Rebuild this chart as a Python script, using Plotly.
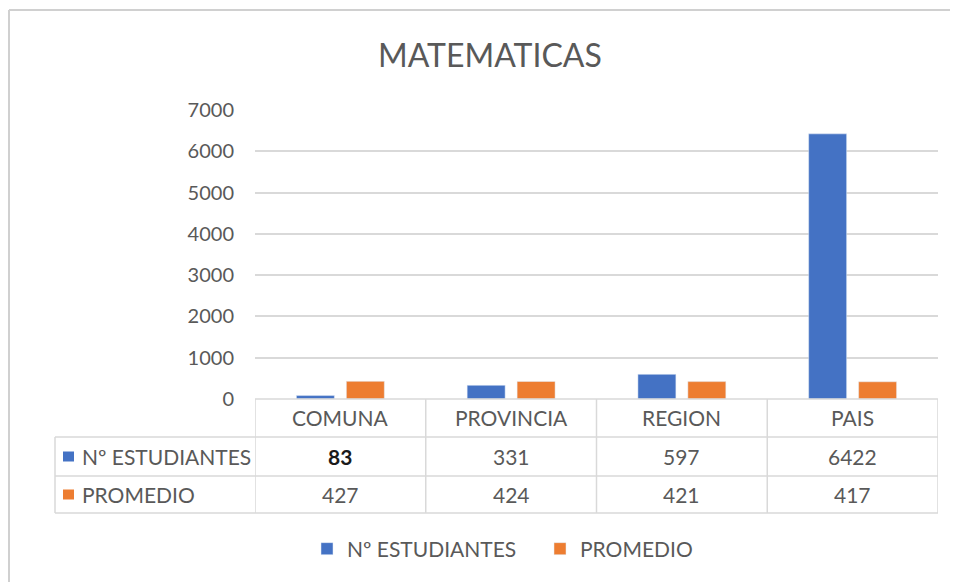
import plotly.graph_objects as go

# datos
categorias = ["COMUNA", "PROVINCIA", "REGION", "PAIS"]
estudiantes = [83, 331, 597, 6422]
promedio = [427, 424, 421, 417]
series = ["Nº ESTUDIANTES", "PROMEDIO"]
y_ticks = [0, 1000, 2000, 3000, 4000, 5000, 6000, 7000]

AZUL = "#4472C4"
NARANJA = "#ED7D31"
GRIS = "#595959"
LINEA = "#d9d9d9"
FUENTE = "Lato, 'Open Sans', sans-serif"

# la página tiene 8px de margen en el body: se compensa aquí
OFF = 8
W, H = 958 - OFF, 582 - OFF
L, R, T, B = 255 - OFF, 20, 110 - OFF, 183
PW, PH = W - L - R, H - T - B


def px_x(p):
    return (p - OFF - L) / PW


def px_y(p):
    return (H - B - (p - OFF)) / PH


fig = go.Figure()
fig.add_trace(go.Bar(x=categorias, y=estudiantes, name=series[0],
                     marker_color=AZUL))
fig.add_trace(go.Bar(x=categorias, y=promedio, name=series[1],
                     marker_color=NARANJA))

shapes = []
annots = []

# filas de la tabla (pixeles de la referencia)
y_top, y_r1, y_r2, y_bot = 399, 437, 476, 513
x_hdr = 55

for yy in (y_r1, y_r2, y_bot):
    shapes.append(dict(type="line", xref="paper", yref="paper",
                       x0=px_x(x_hdr), x1=1, y0=px_y(yy), y1=px_y(yy)))
shapes.append(dict(type="line", xref="paper", yref="paper",
                   x0=0, x1=1, y0=0, y1=0))
for b in range(len(categorias) + 1):
    shapes.append(dict(type="line", xref="x", yref="paper",
                       x0=b - 0.5, x1=b - 0.5, y0=0, y1=px_y(y_bot)))
shapes.append(dict(type="line", xref="paper", yref="paper",
                   x0=px_x(x_hdr), x1=px_x(x_hdr),
                   y0=px_y(y_r1), y1=px_y(y_bot)))
for s in shapes:
    s["line"] = dict(color=LINEA, width=1.5)

# marcadores de serie en la tabla
for (y0, y1), col in zip([(y_r1, y_r2), (y_r2, y_bot)], [AZUL, NARANJA]):
    yc = (y0 + y1) / 2
    shapes.append(dict(type="rect", xref="paper", yref="paper",
                       x0=px_x(63), x1=px_x(74), y0=px_y(yc - 5), y1=px_y(yc + 5),
                       fillcolor=col, line=dict(width=0)))

# borde exterior del gráfico
shapes.append(dict(type="line", xref="paper", yref="paper",
                   x0=px_x(9), x1=px_x(960), y0=px_y(10), y1=px_y(10),
                   line=dict(color="#d0d0d0", width=2)))
shapes.append(dict(type="line", xref="paper", yref="paper",
                   x0=px_x(9), x1=px_x(9), y0=px_y(10), y1=px_y(600),
                   line=dict(color="#d0d0d0", width=2)))

fnt = dict(family=FUENTE, size=21, color=GRIS)
for i, c in enumerate(categorias):
    annots.append(dict(x=i, xref="x", y=px_y((y_top + y_r1) / 2), yref="paper",
                       text=c, showarrow=False, font=fnt,
                       xanchor="center", yanchor="middle"))
    v1 = f"<b>{estudiantes[i]}</b>" if i == 0 else str(estudiantes[i])
    f1 = dict(fnt, color="#1a1a1a") if i == 0 else fnt
    annots.append(dict(x=i, xref="x", y=px_y((y_r1 + y_r2) / 2), yref="paper",
                       text=v1, showarrow=False, font=f1,
                       xanchor="center", yanchor="middle"))
    annots.append(dict(x=i, xref="x", y=px_y((y_r2 + y_bot) / 2), yref="paper",
                       text=str(promedio[i]), showarrow=False, font=fnt,
                       xanchor="center", yanchor="middle"))

for (y0, y1), nombre in zip([(y_r1, y_r2), (y_r2, y_bot)], series):
    annots.append(dict(x=px_x(80), xref="paper", xanchor="left",
                       y=px_y((y0 + y1) / 2), yref="paper", yanchor="middle",
                       text=nombre, showarrow=False, font=fnt))

annots.append(dict(x=px_x(490), xref="paper", xanchor="center",
                   y=px_y(55), yref="paper", yanchor="middle",
                   text="MATEMATICAS", showarrow=False,
                   font=dict(family=FUENTE, size=32, color=GRIS)))

fig.update_layout(
    width=W, height=H,
    margin=dict(l=L, r=R, t=T, b=B),
    paper_bgcolor="white", plot_bgcolor="white",
    barmode="group", bargap=0.415, bargroupgap=0.24,
    font=dict(family=FUENTE, size=20, color=GRIS),
    xaxis=dict(showticklabels=False, showgrid=False, zeroline=False,
               range=[-0.5, 3.5], fixedrange=True),
    yaxis=dict(range=[0, 7000], tickvals=y_ticks, showgrid=True,
               gridcolor=LINEA, gridwidth=1.5, zeroline=False,
               tickfont=dict(size=20, color=GRIS), ticklabelstandoff=20),
    showlegend=True,
    legend=dict(orientation="h", x=px_x(307), xanchor="left",
                y=px_y(549), yanchor="middle",
                font=dict(family=FUENTE, size=21, color=GRIS),
                itemwidth=30, traceorder="normal",
                entrywidth=188, entrywidthmode="pixels"),
    shapes=shapes, annotations=annots,
)

fig.write_html("out.html")
